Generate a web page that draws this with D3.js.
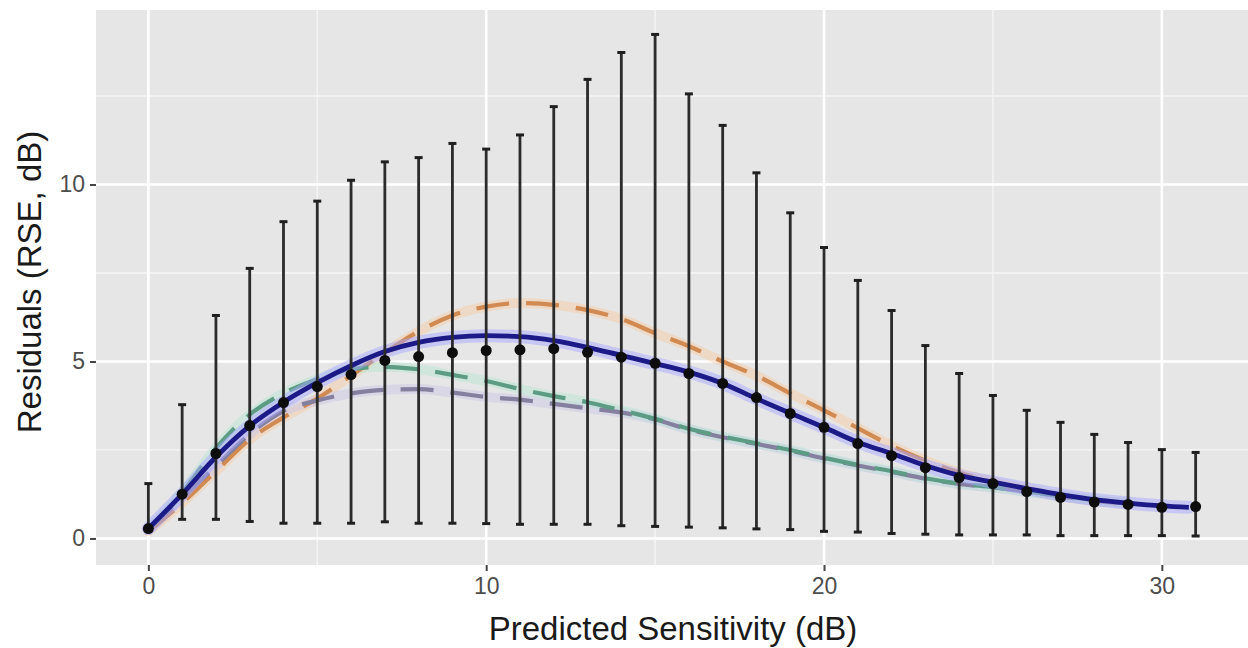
<!DOCTYPE html>
<html>
<head>
<meta charset="utf-8">
<script src="https://cdn.jsdelivr.net/npm/d3@7"></script>
<style>
  html, body { margin: 0; padding: 0; background: #ffffff; }
  svg { display: block; }
  text { font-family: "Liberation Sans", Arial, sans-serif; }
</style>
</head>
<body>
<svg id="chart" width="1248" height="648"></svg>
<script>
// ---------------- data ----------------
const sensitivity = [0,1,2,3,4,5,6,7,8,9,10,11,12,13,14,15,16,17,18,19,20,21,22,23,24,25,26,27,28,29,30,31];
const meanResidual = [0.28,1.25,2.4,3.19,3.84,4.29,4.63,5.03,5.14,5.25,5.31,5.33,5.36,5.26,5.12,4.95,4.66,4.38,3.98,3.53,3.14,2.68,2.34,2.0,1.72,1.55,1.32,1.16,1.03,0.96,0.88,0.9];
const upperResidual = [1.55,3.78,6.3,7.63,8.95,9.53,10.12,10.64,10.76,11.16,11.0,11.4,12.2,12.97,13.73,14.24,12.56,11.67,10.33,9.2,8.22,7.29,6.44,5.45,4.66,4.04,3.62,3.28,2.94,2.71,2.51,2.43];
const lowerResidual = [0.22,0.54,0.54,0.48,0.43,0.43,0.43,0.47,0.43,0.43,0.42,0.4,0.4,0.4,0.36,0.34,0.32,0.3,0.27,0.25,0.2,0.18,0.14,0.12,0.1,0.1,0.1,0.08,0.08,0.08,0.08,0.07];

const fitX = [0,1,2,3,4,5,6,7,8,9,10,11,12,13,14,15,16,17,18,19,20,21,22,23,24,25,26,27,28,29,30,30.8];
const fitSolid = [0.28,1.25,2.3,3.18,3.85,4.4,4.88,5.28,5.54,5.68,5.73,5.7,5.59,5.4,5.17,4.94,4.7,4.38,3.95,3.54,3.14,2.72,2.4,2.06,1.78,1.59,1.41,1.24,1.1,1.0,0.92,0.88];

const modelX = [0,1,2,3,4,5,6,7,8,9,10,11,12,13,14,15,16,17,18,19,20,21,22,23,24,25,26,27,28,29];
const fitOrange = [0.2,1.0,1.9,2.8,3.42,3.95,4.6,5.25,5.85,6.3,6.55,6.65,6.6,6.45,6.2,5.8,5.43,5.0,4.6,4.1,3.62,3.12,2.62,2.2,1.86,1.6,1.38,1.2,1.07,0.99];
const fitGreen = [0.25,1.3,2.55,3.5,4.1,4.5,4.78,4.85,4.78,4.62,4.45,4.22,4.02,3.85,3.62,3.38,3.1,2.88,2.69,2.5,2.28,2.08,1.9,1.7,1.55,1.45,1.33,1.2,1.08,1.0];
const fitPurple = [0.25,1.15,2.05,2.95,3.6,3.9,4.1,4.2,4.22,4.12,4.0,3.92,3.8,3.68,3.56,3.36,3.08,2.86,2.67,2.48,2.26,2.06,1.88,1.69,1.54,1.44,1.32,1.19,1.07,0.99];

const xTicks = [0,10,20,30];
const xMinor = [5,15,25];
const yTicks = [0,5,10];
const yMinor = [2.5,7.5,12.5];
const xTitle = "Predicted Sensitivity (dB)";
const yTitle = "Residuals (RSE, dB)";

// ---------------- layout ----------------
const svg = d3.select("#chart");
const panel = {left: 96, top: 10, right: 1248, bottom: 565};

const x = d3.scaleLinear().domain([-1.55, 32.55]).range([panel.left, panel.right]);
const y = d3.scaleLinear().domain([-0.75, 14.93]).range([panel.bottom, panel.top]);

// panel background
svg.append("rect")
  .attr("x", panel.left).attr("y", panel.top)
  .attr("width", panel.right - panel.left).attr("height", panel.bottom - panel.top)
  .attr("fill", "#e6e6e6");

const grid = svg.append("g");
// minor grid
grid.selectAll(".ymin").data(yMinor).join("line")
  .attr("x1", panel.left).attr("x2", panel.right)
  .attr("y1", d => y(d)).attr("y2", d => y(d))
  .attr("stroke", "#f6f6f6").attr("stroke-width", 1.3);
grid.selectAll(".xmin").data(xMinor).join("line")
  .attr("y1", panel.top).attr("y2", panel.bottom)
  .attr("x1", d => x(d)).attr("x2", d => x(d))
  .attr("stroke", "#f6f6f6").attr("stroke-width", 1.3);
// major grid
grid.selectAll(".ymaj").data(yTicks).join("line")
  .attr("x1", panel.left).attr("x2", panel.right)
  .attr("y1", d => y(d)).attr("y2", d => y(d))
  .attr("stroke", "#ffffff").attr("stroke-width", 2.6);
grid.selectAll(".xmaj").data(xTicks).join("line")
  .attr("y1", panel.top).attr("y2", panel.bottom)
  .attr("x1", d => x(d)).attr("x2", d => x(d))
  .attr("stroke", "#ffffff").attr("stroke-width", 2.6);

// axes
const xAxis = d3.axisBottom(x).tickValues(xTicks).tickSize(6).tickPadding(7).tickFormat(d3.format("d"));
const gx = svg.append("g").attr("transform", `translate(0,${panel.bottom})`).call(xAxis);
gx.select(".domain").remove();
gx.selectAll(".tick line").attr("stroke", "#444").attr("stroke-width", 2);
gx.selectAll(".tick text").attr("fill", "#4d4d4d").attr("font-size", 23)
  .attr("font-family", "Liberation Sans, Arial, sans-serif");

const yAxis = d3.axisLeft(y).tickValues(yTicks).tickSize(6).tickPadding(5).tickFormat(d3.format("d"));
const gy = svg.append("g").attr("transform", `translate(${panel.left},0)`).call(yAxis);
gy.select(".domain").remove();
gy.selectAll(".tick line").attr("stroke", "#444").attr("stroke-width", 2);
gy.selectAll(".tick text").attr("fill", "#4d4d4d").attr("font-size", 23)
  .attr("font-family", "Liberation Sans, Arial, sans-serif");

// titles
svg.append("text")
  .attr("x", 673).attr("y", 640)
  .attr("text-anchor", "middle").attr("font-size", 33).attr("fill", "#1a1a1a")
  .text(xTitle);
svg.append("text")
  .attr("transform", `translate(41,282) rotate(-90)`)
  .attr("text-anchor", "middle").attr("font-size", 33).attr("fill", "#1a1a1a")
  .text(yTitle);

// clip
svg.append("clipPath").attr("id", "clip").append("rect")
  .attr("x", panel.left).attr("y", panel.top)
  .attr("width", panel.right - panel.left).attr("height", panel.bottom - panel.top);
const plot = svg.append("g").attr("clip-path", "url(#clip)");

const lineGen = (xs) => d3.line().x((d, i) => x(xs[i])).y(d => y(d)).curve(d3.curveMonotoneX);

// dashed model curves
const dashed = [
  {vals: fitOrange, color: "#d08a52", halo: "#f7c9a0"},
  {vals: fitPurple, color: "#85809f", halo: "#c9c3e6"},
  {vals: fitGreen,  color: "#5c9c84", halo: "#b5e6d2"}
];
dashed.forEach(s => {
  plot.append("path").datum(s.vals)
    .attr("d", lineGen(modelX)).attr("fill", "none")
    .attr("stroke", s.halo).attr("stroke-opacity", 0.45).attr("stroke-width", 10)
    .attr("stroke-linecap", "round");
});
dashed.forEach(s => {
  plot.append("path").datum(s.vals)
    .attr("d", lineGen(modelX)).attr("fill", "none")
    .attr("stroke", s.color).attr("stroke-width", 4.2)
    .attr("stroke-dasharray", "33,17");
});

// solid fit
plot.append("path").datum(fitSolid)
  .attr("d", lineGen(fitX)).attr("fill", "none")
  .attr("stroke", "#a8a8ff").attr("stroke-opacity", 0.5).attr("stroke-width", 13)
  .attr("stroke-linecap", "round");
plot.append("path").datum(fitSolid)
  .attr("d", lineGen(fitX)).attr("fill", "none")
  .attr("stroke", "#1c1a86").attr("stroke-width", 4.8);

// error bars
const eb = plot.append("g");
eb.selectAll(".bar").data(sensitivity).join("line")
  .attr("x1", d => x(d)).attr("x2", d => x(d))
  .attr("y1", (d, i) => y(lowerResidual[i])).attr("y2", (d, i) => y(upperResidual[i]))
  .attr("stroke", "#2b2b2b").attr("stroke-width", 2.8);
eb.selectAll(".capT").data(sensitivity).join("line")
  .attr("x1", d => x(d) - 4).attr("x2", d => x(d) + 4)
  .attr("y1", (d, i) => y(upperResidual[i])).attr("y2", (d, i) => y(upperResidual[i]))
  .attr("stroke", "#1f1f1f").attr("stroke-width", 3);
eb.selectAll(".capB").data(sensitivity).join("line")
  .attr("x1", d => x(d) - 4).attr("x2", d => x(d) + 4)
  .attr("y1", (d, i) => y(lowerResidual[i])).attr("y2", (d, i) => y(lowerResidual[i]))
  .attr("stroke", "#1f1f1f").attr("stroke-width", 3);

// points
plot.selectAll(".pt").data(sensitivity).join("circle")
  .attr("cx", d => x(d)).attr("cy", (d, i) => y(meanResidual[i]))
  .attr("r", 5.5).attr("fill", "#0d0d0d");
</script>
</body>
</html>
